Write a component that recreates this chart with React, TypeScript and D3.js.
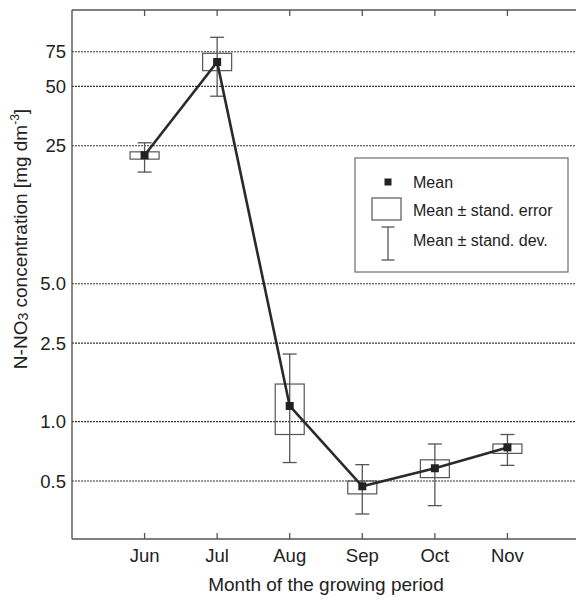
import React from 'react';
import * as d3 from 'd3';

// monthly N-NO3 values
const months = ['Jun', 'Jul', 'Aug', 'Sep', 'Oct', 'Nov'];
const means = [22.4, 66.5, 1.2, 0.47, 0.58, 0.74];
const seLow = [21.4, 60.1, 0.86, 0.43, 0.52, 0.69];
const seHigh = [23.3, 73.6, 1.55, 0.5, 0.64, 0.77];
const sdLow = [18.4, 44.6, 0.62, 0.34, 0.375, 0.6];
const sdHigh = [25.9, 88.7, 2.2, 0.605, 0.77, 0.86];

const yTicks = [0.5, 1, 2.5, 5, 25, 50, 75];
const yTickLabels = ['0.5', '1.0', '2.5', '5.0', '25', '50', '75'];

const width = 576;
const height = 599;
const margin = { top: 10, left: 72, bottom: 60 };
const plotRight = 580;

const font = 'Liberation Sans, Arial, Helvetica, sans-serif';

export default function App() {
  const x = d3.scaleLinear().domain([0, 7]).range([margin.left, plotRight]);
  const y = d3.scaleLog().domain([0.254, 122]).range([height - margin.bottom, margin.top]);
  const bottom = height - margin.bottom;

  const rows = months.map((m, i) => ({
    month: m,
    pos: i + 1,
    mean: means[i],
    seLow: seLow[i],
    seHigh: seHigh[i],
    sdLow: sdLow[i],
    sdHigh: sdHigh[i],
  }));

  const line = d3.line<any>()
    .x(d => x(d.pos))
    .y(d => y(d.mean));

  const boxW = 29;
  const capW = 14;
  const sq = 8;

  return (
    <svg width={width} height={height} style={{ position: 'absolute', left: 0, top: 0, background: '#fff' }}
      fontFamily={font}>
      {/* gridlines */}
      {yTicks.map((t, i) => (
        <g key={t}>
          <line x1={margin.left} x2={width} y1={y(t)} y2={y(t)}
            stroke="#333" strokeWidth={1.1} strokeDasharray="2,1" />
          <text x={margin.left - 6} y={y(t)} dy="0.36em" textAnchor="end" fontSize={18.5} fill="#222">
            {yTickLabels[i]}
          </text>
        </g>
      ))}

      {/* frame */}
      <line x1={margin.left} x2={margin.left} y1={margin.top} y2={bottom} stroke="#555" strokeWidth={1.4} />
      <line x1={margin.left} x2={width} y1={margin.top} y2={margin.top} stroke="#555" strokeWidth={1.4} />
      <line x1={margin.left} x2={width} y1={bottom} y2={bottom} stroke="#555" strokeWidth={1.4} />

      {rows.map(d => (
        <g key={d.month}>
          <line x1={x(d.pos)} x2={x(d.pos)} y1={bottom} y2={bottom - 6} stroke="#555" strokeWidth={1.3} />
          <line x1={x(d.pos)} x2={x(d.pos)} y1={margin.top} y2={margin.top + 6} stroke="#555" strokeWidth={1.3} />
          <text x={x(d.pos)} y={562} textAnchor="middle" fontSize={18.5} fill="#222">{d.month}</text>
        </g>
      ))}

      <text x={x(3.5)} y={591} textAnchor="middle" fontSize={19} fill="#222">Month of the growing period</text>

      <text transform={`translate(27,${239}) rotate(-90)`} textAnchor="middle" fontSize={19} fill="#222">
        N-NO<tspan fontSize={14} dy={1}>3</tspan>
        <tspan dy={-1}> concentration [mg dm</tspan>
        <tspan fontSize={12} dy={-8}>-3</tspan>
        <tspan dy={8}>]</tspan>
      </text>

      {/* error boxes and whiskers */}
      {rows.map(d => (
        <g key={'e' + d.month} stroke="#555" fill="none">
          <rect x={x(d.pos) - boxW / 2} width={boxW} y={y(d.seHigh)} height={y(d.seLow) - y(d.seHigh)}
            strokeWidth={1.2} />
          <line x1={x(d.pos)} x2={x(d.pos)} y1={y(d.sdHigh)} y2={y(d.sdLow)} strokeWidth={1.3} />
          <line x1={x(d.pos) - capW / 2} x2={x(d.pos) + capW / 2} y1={y(d.sdHigh)} y2={y(d.sdHigh)} strokeWidth={1.3} />
          <line x1={x(d.pos) - capW / 2} x2={x(d.pos) + capW / 2} y1={y(d.sdLow)} y2={y(d.sdLow)} strokeWidth={1.3} />
        </g>
      ))}

      <path d={line(rows) || ''} fill="none" stroke="#2a2a2a" strokeWidth={2.6} />

      {rows.map(d => (
        <rect key={'m' + d.month} x={x(d.pos) - sq / 2} y={y(d.mean) - sq / 2} width={sq} height={sq} fill="#222" />
      ))}

      {/* legend */}
      <g>
        <rect x={355} y={158} width={213} height={114} fill="#fff" stroke="#777" strokeWidth={1.3} />
        <rect x={388 - 3.5} y={182 - 3.5} width={7} height={7} fill="#222" />
        <text x={413} y={182} dy="0.36em" fontSize={16} fill="#222">Mean</text>
        <rect x={372} y={198} width={29} height={22} fill="none" stroke="#555" strokeWidth={1.2} />
        <text x={413} y={210} dy="0.36em" fontSize={16} fill="#222">Mean ± stand. error</text>
        <g stroke="#555" strokeWidth={1.3}>
          <line x1={388} x2={388} y1={227} y2={260} />
          <line x1={381.5} x2={394.5} y1={227} y2={227} />
          <line x1={381.5} x2={394.5} y1={260} y2={260} />
        </g>
        <text x={413} y={240} dy="0.36em" fontSize={16} fill="#222">Mean ± stand. dev.</text>
      </g>
    </svg>
  );
}
